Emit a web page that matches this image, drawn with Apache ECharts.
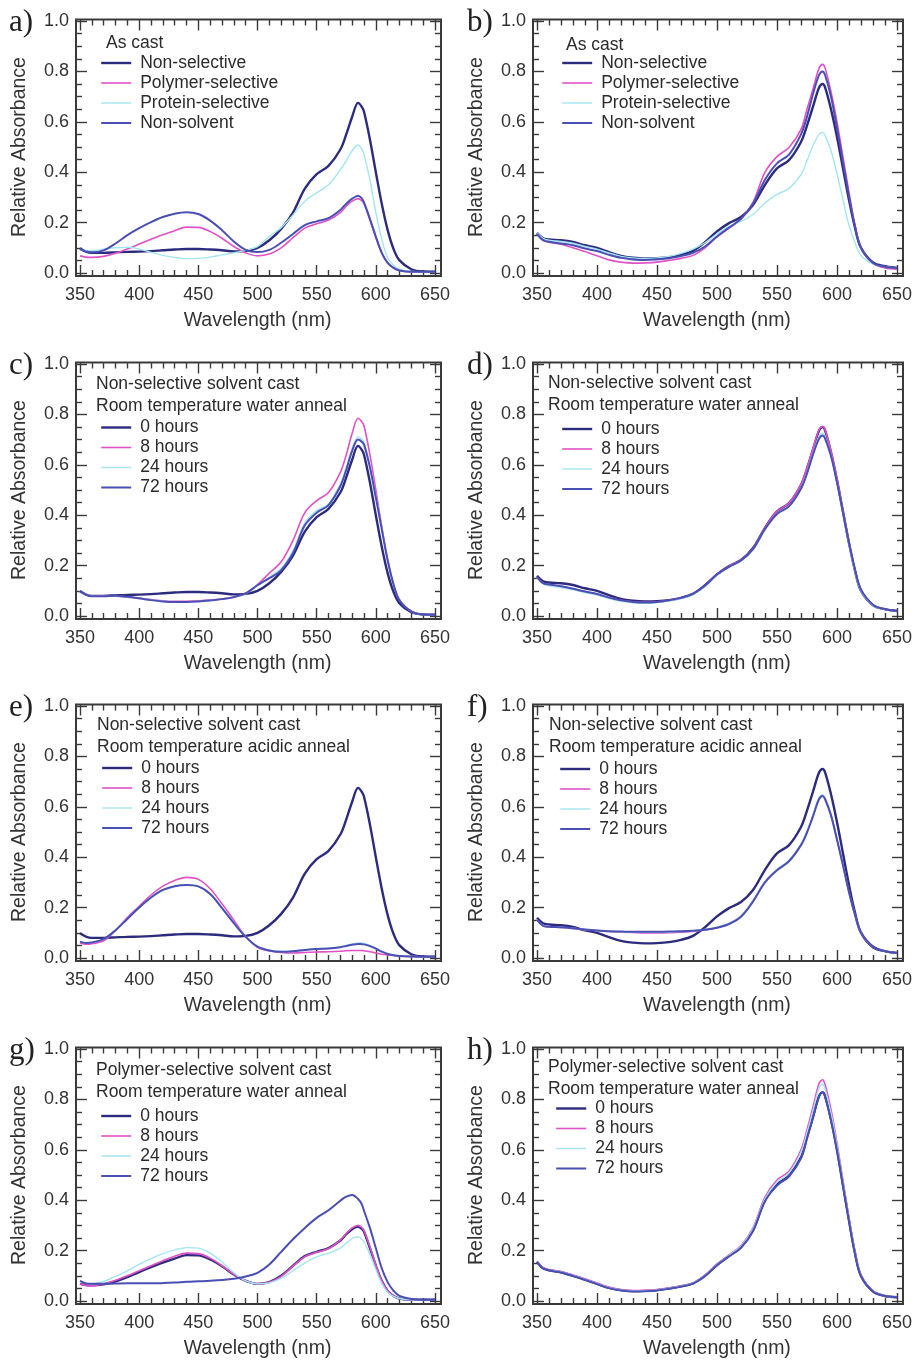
<!DOCTYPE html>
<html>
<head>
<meta charset="utf-8">
<script src="https://cdn.jsdelivr.net/npm/echarts@6/dist/echarts.min.js"></script>
<style>
  html, body { margin: 0; padding: 0; background: #ffffff; }
  #chart { width: 915px; height: 1362px; }
</style>
</head>
<body>
<div id="chart"></div>
<script>
// Wavelength grid (nm) shared by every spectrum
const wavelength = [350,355,360,370,380,390,400,410,420,430,440,450,460,470,480,490,500,510,520,530,540,550,560,570,575,580,585,588,590,595,600,605,610,615,620,630,640,650];

// Tick values
const xTicks = [350, 400, 450, 500, 550, 600, 650];
const yTicks = [0.0, 0.2, 0.4, 0.6, 0.8, 1.0];

// Film A, as cast
const nonSelA  = [0.098,0.085,0.080,0.080,0.082,0.084,0.085,0.087,0.090,0.093,0.095,0.095,0.093,0.090,0.086,0.088,0.100,0.130,0.175,0.240,0.335,0.392,0.425,0.490,0.550,0.620,0.675,0.660,0.640,0.530,0.400,0.275,0.170,0.095,0.050,0.015,0.006,0.005];
const polySelA = [0.068,0.063,0.062,0.066,0.078,0.095,0.115,0.134,0.152,0.168,0.182,0.181,0.165,0.138,0.105,0.080,0.068,0.075,0.100,0.140,0.178,0.195,0.210,0.240,0.265,0.285,0.295,0.287,0.275,0.210,0.140,0.080,0.040,0.020,0.010,0.005,0.005,0.005];
const protSelA = [0.095,0.088,0.088,0.094,0.100,0.102,0.095,0.082,0.070,0.062,0.057,0.058,0.063,0.072,0.080,0.090,0.105,0.145,0.180,0.230,0.285,0.318,0.350,0.410,0.445,0.485,0.508,0.492,0.470,0.370,0.240,0.135,0.060,0.030,0.015,0.006,0.005,0.005];
const nonSolvA = [0.095,0.085,0.082,0.090,0.117,0.150,0.178,0.202,0.222,0.235,0.241,0.234,0.208,0.170,0.125,0.092,0.083,0.092,0.120,0.155,0.190,0.205,0.218,0.250,0.275,0.295,0.307,0.297,0.280,0.215,0.145,0.080,0.040,0.020,0.010,0.005,0.005,0.005];

// Film B, as cast
const nonSelB  = [0.160,0.138,0.133,0.130,0.123,0.110,0.100,0.083,0.068,0.061,0.058,0.059,0.063,0.072,0.088,0.122,0.165,0.198,0.222,0.270,0.350,0.415,0.448,0.520,0.585,0.660,0.735,0.750,0.738,0.650,0.540,0.415,0.290,0.180,0.100,0.042,0.027,0.020];
const polySelB = [0.155,0.130,0.122,0.114,0.100,0.085,0.068,0.052,0.043,0.039,0.040,0.043,0.050,0.058,0.070,0.100,0.143,0.178,0.213,0.280,0.400,0.462,0.498,0.570,0.650,0.730,0.812,0.828,0.815,0.720,0.600,0.460,0.320,0.190,0.100,0.038,0.020,0.015];
const protSelB = [0.160,0.138,0.130,0.125,0.118,0.105,0.095,0.080,0.066,0.060,0.058,0.060,0.066,0.078,0.095,0.120,0.155,0.185,0.205,0.232,0.278,0.312,0.335,0.390,0.445,0.505,0.550,0.558,0.547,0.485,0.395,0.290,0.190,0.120,0.070,0.035,0.025,0.020];
const nonSolvB = [0.155,0.130,0.124,0.117,0.110,0.097,0.087,0.072,0.060,0.054,0.052,0.054,0.058,0.067,0.080,0.105,0.145,0.180,0.215,0.275,0.370,0.435,0.470,0.550,0.620,0.710,0.785,0.800,0.787,0.700,0.575,0.440,0.305,0.185,0.100,0.040,0.025,0.020];

// Non-selective cast, room temperature water anneal
const waterA8  = [0.100,0.085,0.080,0.080,0.079,0.075,0.070,0.065,0.060,0.058,0.058,0.060,0.063,0.068,0.075,0.090,0.125,0.170,0.215,0.300,0.410,0.458,0.490,0.570,0.640,0.725,0.785,0.772,0.755,0.640,0.500,0.355,0.225,0.125,0.065,0.018,0.006,0.005];
const waterA24 = [0.100,0.085,0.079,0.078,0.079,0.075,0.070,0.064,0.059,0.057,0.056,0.058,0.062,0.067,0.074,0.089,0.120,0.155,0.190,0.260,0.370,0.418,0.445,0.525,0.590,0.665,0.712,0.703,0.690,0.600,0.480,0.350,0.222,0.125,0.063,0.018,0.006,0.005];
const waterA72 = [0.100,0.085,0.078,0.078,0.080,0.076,0.070,0.063,0.058,0.056,0.056,0.058,0.062,0.067,0.075,0.090,0.122,0.150,0.182,0.250,0.360,0.410,0.440,0.515,0.580,0.655,0.700,0.692,0.680,0.590,0.470,0.345,0.220,0.125,0.062,0.018,0.006,0.005];
const waterB8  = [0.155,0.130,0.124,0.117,0.108,0.097,0.087,0.073,0.062,0.056,0.054,0.056,0.062,0.072,0.088,0.120,0.165,0.198,0.222,0.268,0.350,0.415,0.448,0.522,0.588,0.665,0.738,0.752,0.740,0.655,0.545,0.418,0.292,0.182,0.102,0.043,0.027,0.020];
const waterB24 = [0.150,0.127,0.120,0.113,0.104,0.093,0.083,0.069,0.058,0.052,0.050,0.053,0.059,0.069,0.085,0.117,0.162,0.194,0.218,0.262,0.342,0.405,0.436,0.508,0.570,0.645,0.712,0.725,0.713,0.635,0.530,0.408,0.285,0.178,0.100,0.042,0.026,0.019];
const waterB72 = [0.155,0.130,0.125,0.118,0.108,0.097,0.087,0.073,0.062,0.056,0.054,0.056,0.062,0.072,0.088,0.120,0.165,0.195,0.220,0.265,0.345,0.405,0.435,0.505,0.565,0.640,0.703,0.716,0.705,0.635,0.530,0.410,0.290,0.185,0.105,0.045,0.027,0.020];

// Non-selective cast, room temperature acidic anneal
const acidA8  = [0.060,0.055,0.057,0.068,0.110,0.160,0.205,0.250,0.285,0.308,0.320,0.312,0.275,0.215,0.150,0.085,0.042,0.028,0.022,0.020,0.022,0.024,0.025,0.027,0.029,0.030,0.030,0.030,0.029,0.025,0.020,0.015,0.012,0.010,0.008,0.006,0.005,0.005];
const acidA24 = [0.065,0.060,0.062,0.075,0.110,0.155,0.198,0.238,0.268,0.284,0.290,0.285,0.256,0.200,0.140,0.085,0.045,0.030,0.026,0.028,0.033,0.037,0.040,0.045,0.050,0.056,0.060,0.060,0.058,0.050,0.039,0.026,0.017,0.011,0.008,0.006,0.005,0.005];
const acidA72 = [0.065,0.060,0.062,0.075,0.110,0.155,0.200,0.240,0.270,0.285,0.290,0.284,0.254,0.198,0.138,0.084,0.045,0.030,0.025,0.027,0.032,0.036,0.038,0.043,0.048,0.053,0.056,0.055,0.054,0.047,0.037,0.025,0.016,0.011,0.008,0.006,0.005,0.005];
const acidB8  = [0.150,0.128,0.124,0.121,0.117,0.112,0.108,0.105,0.103,0.101,0.099,0.099,0.100,0.102,0.106,0.111,0.120,0.136,0.166,0.226,0.302,0.350,0.386,0.450,0.500,0.565,0.632,0.645,0.633,0.568,0.470,0.368,0.260,0.170,0.100,0.045,0.027,0.020];
const acidB24 = [0.152,0.130,0.125,0.122,0.118,0.113,0.109,0.106,0.104,0.103,0.102,0.102,0.103,0.105,0.108,0.113,0.122,0.138,0.168,0.228,0.303,0.352,0.388,0.452,0.503,0.568,0.635,0.648,0.636,0.570,0.472,0.370,0.262,0.172,0.102,0.046,0.027,0.020];
const acidB72 = [0.152,0.128,0.124,0.122,0.118,0.113,0.109,0.106,0.105,0.104,0.104,0.104,0.105,0.106,0.108,0.112,0.120,0.135,0.164,0.224,0.300,0.348,0.384,0.448,0.498,0.562,0.630,0.643,0.631,0.566,0.470,0.368,0.262,0.172,0.102,0.046,0.027,0.020];

// Polymer-selective cast, room temperature water anneal
const polyWater8   = [0.068,0.062,0.060,0.068,0.082,0.100,0.120,0.140,0.160,0.178,0.190,0.188,0.170,0.140,0.106,0.080,0.068,0.074,0.098,0.138,0.176,0.193,0.208,0.242,0.268,0.290,0.300,0.292,0.280,0.215,0.142,0.080,0.040,0.020,0.010,0.005,0.005,0.005];
const polyWater24  = [0.080,0.070,0.068,0.078,0.098,0.120,0.145,0.168,0.188,0.203,0.212,0.210,0.190,0.155,0.112,0.080,0.068,0.072,0.090,0.120,0.150,0.175,0.190,0.210,0.230,0.248,0.255,0.246,0.235,0.185,0.125,0.070,0.035,0.018,0.010,0.005,0.005,0.005];
const polyWater72  = [0.080,0.070,0.068,0.068,0.069,0.070,0.070,0.070,0.071,0.073,0.076,0.078,0.080,0.083,0.088,0.097,0.112,0.145,0.195,0.245,0.290,0.330,0.360,0.398,0.414,0.421,0.405,0.385,0.358,0.290,0.210,0.130,0.075,0.040,0.020,0.008,0.005,0.005];
const polyWaterB8  = [0.158,0.132,0.125,0.117,0.103,0.088,0.071,0.055,0.045,0.041,0.042,0.045,0.052,0.060,0.072,0.103,0.147,0.183,0.220,0.290,0.412,0.480,0.515,0.600,0.680,0.770,0.862,0.878,0.860,0.760,0.628,0.478,0.330,0.195,0.102,0.038,0.020,0.015];
const polyWaterB24 = [0.156,0.131,0.123,0.115,0.101,0.086,0.069,0.053,0.044,0.040,0.041,0.044,0.051,0.059,0.071,0.101,0.145,0.181,0.217,0.286,0.405,0.472,0.508,0.590,0.668,0.755,0.845,0.860,0.842,0.745,0.618,0.472,0.328,0.194,0.102,0.038,0.020,0.015];
const polyWaterB72 = [0.155,0.130,0.122,0.113,0.099,0.084,0.067,0.051,0.042,0.038,0.039,0.042,0.049,0.057,0.069,0.099,0.142,0.177,0.212,0.278,0.396,0.458,0.494,0.566,0.645,0.728,0.812,0.828,0.812,0.718,0.598,0.458,0.318,0.188,0.099,0.037,0.020,0.015];

// Legend names
const castNames = ['Non-selective', 'Polymer-selective', 'Protein-selective', 'Non-solvent'];
const hourNames = ['0 hours', '8 hours', '24 hours', '72 hours'];

const panels = [
  { label: 'a)', header: ['As cast'], names: castNames, series: [nonSelA, polySelA, protSelA, nonSolvA] },
  { label: 'b)', header: ['As cast'], names: castNames, series: [nonSelB, polySelB, protSelB, nonSolvB] },
  { label: 'c)', header: ['Non-selective solvent cast', 'Room temperature water anneal'], names: hourNames, series: [nonSelA, waterA8, waterA24, waterA72] },
  { label: 'd)', header: ['Non-selective solvent cast', 'Room temperature water anneal'], names: hourNames, series: [nonSelB, waterB8, waterB24, waterB72] },
  { label: 'e)', header: ['Non-selective solvent cast', 'Room temperature acidic anneal'], names: hourNames, series: [nonSelA, acidA8, acidA24, acidA72] },
  { label: 'f)', header: ['Non-selective solvent cast', 'Room temperature acidic anneal'], names: hourNames, series: [nonSelB, acidB8, acidB24, acidB72] },
  { label: 'g)', header: ['Polymer-selective solvent cast', 'Room temperature water anneal'], names: hourNames, series: [polySelA, polyWater8, polyWater24, polyWater72] },
  { label: 'h)', header: ['Polymer-selective solvent cast', 'Room temperature water anneal'], names: hourNames, series: [polySelB, polyWaterB8, polyWaterB24, polyWaterB72] }
];

// ---- Layout & style ----
const SANS = 'Liberation Sans, Arial, sans-serif';
const SERIF = 'Liberation Serif, Times New Roman, serif';
const INK = '#333333';
const FRAME_COLOR = '#3a3a3a';
const lineColors = ['#2d2b7d', '#e052c6', '#a4e6f0', '#4a4fb4'];
const lineWidths = [2.4, 1.6, 1.4, 2.0];

const COL_LEFT = [80, 537];
const COL_WIDTH = [355, 360];
const ROW_TOP = [21, 364, 706, 1049];
const PLOT_H = 252;
const FRAME = { l: 4, r: 6, t: 1.5, b: 3 };

// Header / legend placement inside each panel (offsets from plot top)
const boxPos = [
  { hx: 106, hy: 22,   lx: 100, ly: 42 },
  { hx: 566, hy: 24,   lx: 561, ly: 42 },
  { hx: 96,  hy: 20.5, lx: 100, ly: 63.5 },
  { hx: 548, hy: 19,   lx: 561, ly: 65 },
  { hx: 97,  hy: 19,   lx: 101, ly: 62 },
  { hx: 549, hy: 19,   lx: 559, ly: 63 },
  { hx: 96,  hy: 21,   lx: 100, ly: 67 },
  { hx: 548, hy: 18,   lx: 555, ly: 59.5 }
];

const grid = [], xAxis = [], yAxis = [], series = [], legend = [], title = [], graphic = [];

const tickStyle = { color: FRAME_COLOR, width: 1.4 };

panels.forEach((p, i) => {
  const col = i % 2, row = Math.floor(i / 2);
  const left = COL_LEFT[col], width = COL_WIDTH[col], top = ROW_TOP[row];
  grid.push({ left, top, width, height: PLOT_H, containLabel: false });

  const xBase = {
    type: 'value', gridIndex: i, min: xTicks[0], max: xTicks[xTicks.length - 1], interval: 50,
    axisLine: { show: false, onZero: false },
    axisTick: { show: true, inside: true, length: 11, lineStyle: tickStyle },
    minorTick: { show: true, splitNumber: 5, length: 6, lineStyle: tickStyle },
    splitLine: { show: false }, minorSplitLine: { show: false }
  };
  xAxis.push(Object.assign({}, xBase, {
    position: 'bottom', offset: FRAME.b,
    axisLabel: { show: true, fontSize: 18, margin: 10, color: INK, fontFamily: SANS },
    name: 'Wavelength (nm)', nameLocation: 'middle', nameGap: 35,
    nameTextStyle: { fontSize: 19.5, color: INK, fontFamily: SANS }
  }));
  xAxis.push(Object.assign({}, xBase, {
    position: 'top', offset: FRAME.t, axisLabel: { show: false }
  }));

  const yBase = {
    type: 'value', gridIndex: i, min: yTicks[0], max: yTicks[yTicks.length - 1], interval: 0.2,
    axisLine: { show: false, onZero: false },
    axisTick: { show: true, inside: true, length: 11, lineStyle: tickStyle },
    minorTick: { show: true, splitNumber: 4, length: 6, lineStyle: tickStyle },
    splitLine: { show: false }, minorSplitLine: { show: false }
  };
  yAxis.push(Object.assign({}, yBase, {
    position: 'left', offset: FRAME.l,
    axisLabel: { show: true, fontSize: 18, margin: 7, color: INK, fontFamily: SANS,
                 formatter: v => v.toFixed(1) },
    name: 'Relative Absorbance', nameLocation: 'middle', nameGap: 46,
    nameTextStyle: { fontSize: 19.5, color: INK, fontFamily: SANS }
  }));
  yAxis.push(Object.assign({}, yBase, {
    position: 'right', offset: FRAME.r, axisLabel: { show: false }
  }));

  p.series.forEach((vals, k) => {
    series.push({
      type: 'line', name: p.names[k],
      xAxisIndex: 2 * i, yAxisIndex: 2 * i,
      data: wavelength.map((w, j) => [w, vals[j]]),
      symbol: 'none', showSymbol: false,
      smooth: 0.35,
      lineStyle: { color: lineColors[k], width: lineWidths[k] },
      itemStyle: { color: lineColors[k] },
      silent: true
    });
  });

  const bp = boxPos[i];
  // Legend keys are plain line segments (the marker is hidden)
  legend.push({
    orient: 'vertical', left: bp.lx, top: top + bp.ly - 10,
    data: p.names, itemWidth: 30, itemHeight: 10, itemGap: 0, padding: 0,
    selectedMode: false,
    itemStyle: { opacity: 0, borderWidth: 0 },
    lineStyle: { width: 'inherit' },
    textStyle: { fontFamily: SANS, fontSize: 17.5, lineHeight: 20, color: '#2b2b2b', padding: [0, 0, 0, 4] }
  });

  title.push({
    text: p.header.join('\n'), left: bp.hx, top: top + bp.hy - 11, padding: 0,
    textStyle: { fontFamily: SANS, fontSize: 17.5, lineHeight: 22, fontWeight: 'normal', color: '#2b2b2b' }
  });
  title.push({
    text: p.label, left: col === 0 ? 9 : 467, top: top - 14, padding: 0,
    textStyle: { fontFamily: SERIF, fontSize: 31, fontWeight: 'normal', color: '#222222' }
  });

  graphic.push({
    type: 'rect', silent: true, z: 100,
    shape: { x: left - FRAME.l, y: top - FRAME.t, width: width + FRAME.l + FRAME.r, height: PLOT_H + FRAME.t + FRAME.b },
    style: { fill: 'none', stroke: FRAME_COLOR, lineWidth: 2 }
  });
});

const chart = echarts.init(document.getElementById('chart'), null, { renderer: 'canvas' });
chart.setOption({
  backgroundColor: '#ffffff',
  animation: false,
  grid, xAxis, yAxis, series, legend, title, graphic
});
</script>
</body>
</html>
